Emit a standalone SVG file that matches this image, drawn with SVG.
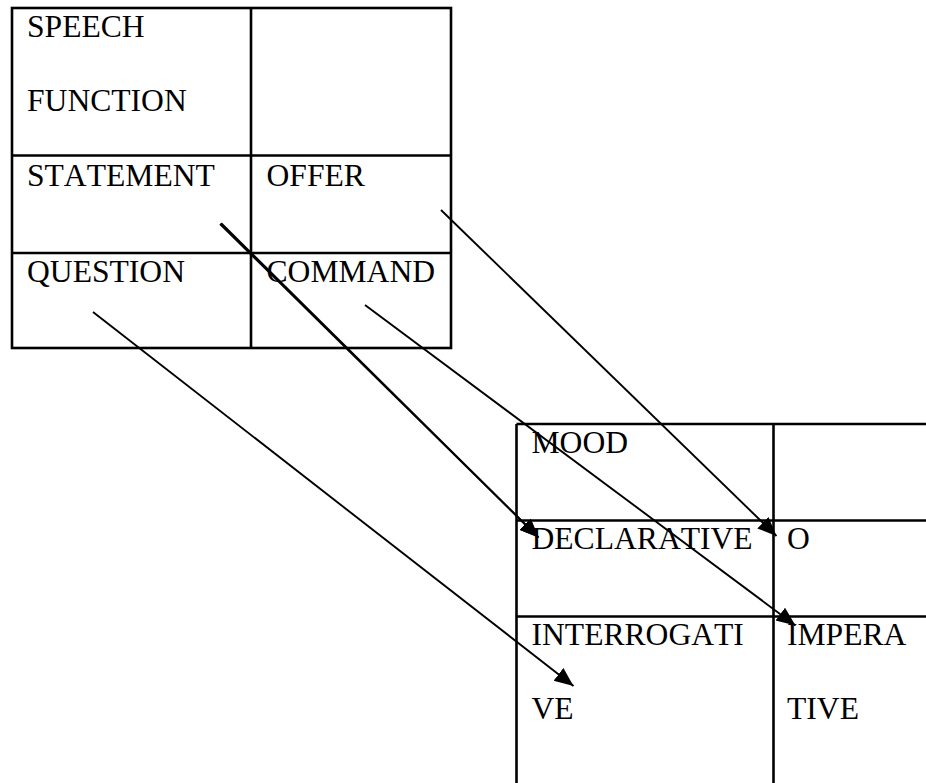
<svg xmlns="http://www.w3.org/2000/svg" width="926" height="783" viewBox="0 0 926 783">
  <style>
    .grid { stroke: #000; stroke-width: 2.6; fill: none; }
    .lbl { font-family: "Liberation Serif", "Times New Roman", serif; font-size: 31.6px; fill: #000; font-kerning: none; }
    .conn { stroke: #000; stroke-width: 1.9; fill: none; marker-end: url(#arrow); }
  </style>
  <defs>
    <marker id="arrow" markerUnits="userSpaceOnUse" markerWidth="22" markerHeight="18" refX="19" refY="8" orient="auto">
      <path d="M0,0 L19,8 L0,16 Z" fill="#000"/>
    </marker>
  </defs>
  <rect width="926" height="783" fill="#fff"/>

  <!-- speech function table -->
  <g id="speech-function-table">
    <rect class="grid" x="12" y="8" width="439" height="340"/>
    <line class="grid" x1="251" y1="8" x2="251" y2="348"/>
    <line class="grid" x1="12" y1="155.5" x2="451" y2="155.5"/>
    <line class="grid" x1="12" y1="253" x2="451" y2="253"/>
  </g>
  <g id="speech-function">
    <text class="lbl" x="27" y="36.5">SPEECH</text>
    <text class="lbl" x="27" y="110.5">FUNCTION</text>
  </g>
  <g id="statement"><text class="lbl" x="27" y="185.5">STATEMENT</text></g>
  <g id="offer"><text class="lbl" x="266.5" y="185.5">OFFER</text></g>
  <g id="question"><text class="lbl" x="27" y="282">QUESTION</text></g>
  <g id="command"><text class="lbl" x="266.5" y="282">COMMAND</text></g>

  <!-- mood table -->
  <g id="mood-table">
    <line class="grid" x1="516.5" y1="424" x2="926" y2="424"/>
    <line class="grid" x1="516.5" y1="424" x2="516.5" y2="783"/>
    <line class="grid" x1="773.5" y1="424" x2="773.5" y2="783"/>
    <line class="grid" x1="516.5" y1="520.5" x2="926" y2="520.5"/>
    <line class="grid" x1="516.5" y1="616.5" x2="926" y2="616.5"/>
  </g>
  <g id="mood"><text class="lbl" x="531.5" y="452.5">MOOD</text></g>
  <g id="declarative"><text class="lbl" x="531.5" y="549">DECLARATIVE</text></g>
  <g id="o"><text class="lbl" x="787" y="549">O</text></g>
  <g id="interrogative">
    <text class="lbl" x="531.5" y="645">INTERROGATI</text>
    <text class="lbl" x="531.5" y="719">VE</text>
  </g>
  <g id="imperative">
    <text class="lbl" x="787" y="645">IMPERA</text>
    <text class="lbl" x="787" y="719">TIVE</text>
  </g>

  <!-- connectors -->
  <g id="connectors">
    <line class="conn" x1="220" y1="224" x2="538.5" y2="537.5"/>
    <line class="conn" x1="221.2" y1="223.2" x2="538.5" y2="537.5"/>
    <line class="conn" x1="441" y1="210" x2="776.5" y2="536"/>
    <line class="conn" x1="365" y1="305" x2="795.5" y2="625.5"/>
    <line class="conn" x1="93" y1="312" x2="573.5" y2="686"/>
  </g>
</svg>
